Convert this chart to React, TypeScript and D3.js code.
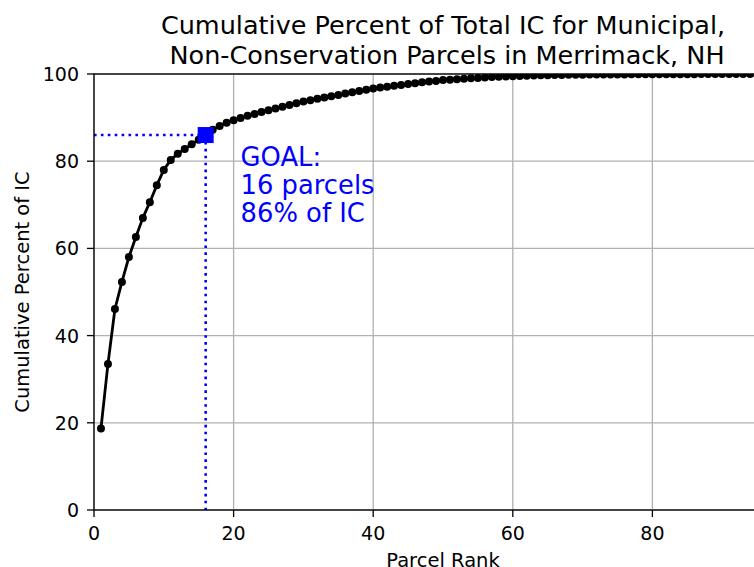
import React from 'react'
import * as d3 from 'd3'

// cumulative percent of total IC, parcel rank 1..100
const cumPercent = [
  18.7, 33.5, 46.1, 52.3, 58.0, 62.6, 67.0, 70.6, 74.5, 78.0,
  80.3, 81.7, 82.8, 83.9, 84.9, 86.0, 87.2, 88.1, 88.8, 89.4,
  89.9, 90.4, 90.8, 91.3, 91.7, 92.1, 92.5, 92.9, 93.3, 93.7,
  94.0, 94.3, 94.6, 94.9, 95.2, 95.5, 95.8, 96.1, 96.4, 96.7,
  96.9, 97.1, 97.3, 97.5, 97.7, 97.9, 98.1, 98.3, 98.4, 98.6,
  98.7, 98.8, 98.9, 99.0, 99.1, 99.2, 99.3, 99.35, 99.4, 99.5,
  99.55, 99.6, 99.65, 99.7, 99.72, 99.75, 99.78, 99.8, 99.82, 99.84,
  99.86, 99.87, 99.88, 99.89, 99.9, 99.91, 99.92, 99.93, 99.94, 99.95,
  99.95, 99.96, 99.96, 99.97, 99.97, 99.97, 99.98, 99.98, 99.98, 99.98,
  99.99, 99.99, 99.99, 99.99, 99.99, 100, 100, 100, 100, 100,
]
const ranks = cumPercent.map((_, i) => i + 1)

const xTicks = [0, 20, 40, 60, 80]
const yTicks = [0, 20, 40, 60, 80, 100]
const goal = { rank: 16, pct: 86 }
const goalLines = ['GOAL:', '16 parcels', '86% of IC']
const titleLines = [
  'Cumulative Percent of Total IC for Municipal,',
  ' Non-Conservation Parcels in Merrimack, NH',
]

const left = 94
const top = 74
const plotW = 698
const plotH = 436
const font = 'DejaVu Sans, sans-serif'

export default function App() {
  const x = d3.scaleLinear().domain([0, 100]).range([left, left + plotW])
  const y = d3.scaleLinear().domain([0, 100]).range([top + plotH, top])
  const pts = ranks.map((r, i) => [r, cumPercent[i]] as [number, number])
  const line = d3.line<[number, number]>()
    .x(d => x(d[0]))
    .y(d => y(d[1]))
  const cx = (left + left + plotW) / 2

  return (
    <svg width={754} height={567} style={{ position: 'absolute', left: 0, top: 0 }}
      fontFamily={font}>
      <rect width={754} height={567} fill="#fff" />
      <defs>
        <clipPath id="plot">
          <rect x={left} y={top} width={plotW} height={plotH} />
        </clipPath>
      </defs>

      {/* grid */}
      {xTicks.map(t => (
        <line key={'gx' + t} x1={x(t)} x2={x(t)} y1={top} y2={top + plotH}
          stroke="#b0b0b0" strokeWidth={1.3} />
      ))}
      {yTicks.map(t => (
        <line key={'gy' + t} x1={left} x2={left + plotW} y1={y(t)} y2={y(t)}
          stroke="#b0b0b0" strokeWidth={1.3} />
      ))}

      <g clipPath="url(#plot)">
        <path d={line(pts) || ''} fill="none" stroke="#000" strokeWidth={2.8}
          strokeLinejoin="round" />
        {pts.map(d => (
          <circle key={d[0]} cx={x(d[0])} cy={y(d[1])} r={4} fill="#000" />
        ))}
        <line x1={left} x2={x(goal.rank)} y1={y(goal.pct)} y2={y(goal.pct)}
          stroke="#0000ff" strokeWidth={2.6} strokeDasharray="2.6,4.3" />
        <line x1={x(goal.rank)} x2={x(goal.rank)} y1={y(goal.pct)} y2={top + plotH}
          stroke="#0000ff" strokeWidth={2.6} strokeDasharray="2.6,4.3" />
        <rect x={x(goal.rank) - 8} y={y(goal.pct) - 8} width={16} height={16} fill="#0000ff" />
      </g>

      {goalLines.map((s, i) => (
        <text key={s} x={x(21)} y={166 + i * 28} fontSize={25.8} fill="#0000ff">{s}</text>
      ))}

      {/* spines */}
      <rect x={left} y={top} width={plotW} height={plotH} fill="none" stroke="#000" strokeWidth={1.3} />

      {/* x axis */}
      {xTicks.map(t => (
        <g key={'xt' + t}>
          <line x1={x(t)} x2={x(t)} y1={top + plotH} y2={top + plotH + 7} stroke="#000" strokeWidth={1.3} />
          <text x={x(t)} y={540} fontSize={19} textAnchor="middle">{t}</text>
        </g>
      ))}
      {/* y axis */}
      {yTicks.map(t => (
        <g key={'yt' + t}>
          <line x1={left - 7} x2={left} y1={y(t)} y2={y(t)} stroke="#000" strokeWidth={1.3} />
          <text x={79} y={y(t)} fontSize={19} textAnchor="end" dominantBaseline="central">{t}</text>
        </g>
      ))}

      <text x={cx} y={567} fontSize={19.5} textAnchor="middle">Parcel Rank</text>
      <text transform={`translate(22,${top + plotH / 2}) rotate(-90)`} fontSize={19.5}
        textAnchor="middle" dominantBaseline="central">Cumulative Percent of IC</text>

      {titleLines.map((s, i) => (
        <text key={i} x={cx} y={34 + i * 30} fontSize={25.5} textAnchor="middle"
          style={{ whiteSpace: 'pre' }}>{s}</text>
      ))}
    </svg>
  )
}
